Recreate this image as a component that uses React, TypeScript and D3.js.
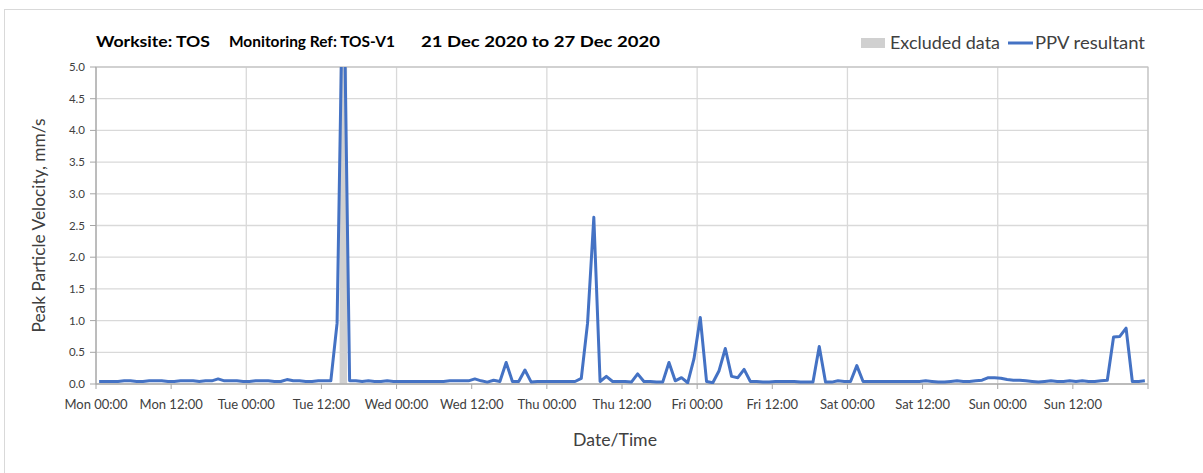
import { scaleLinear, line, range, format } from 'd3'
import { useMemo } from 'react'

// hourly PPV peaks, Mon 21 Dec 00:00 .. Sun 27 Dec 23:00 (mm/s)
const ppvValues = [
  0.04, 0.04, 0.04, 0.04, 0.05, 0.05, 0.04, 0.04, 0.05, 0.05, 0.05, 0.04,
  0.04, 0.05, 0.05, 0.05, 0.04, 0.05, 0.05, 0.08, 0.05, 0.05, 0.05, 0.04,
  0.04, 0.05, 0.05, 0.05, 0.04, 0.04, 0.07, 0.05, 0.05, 0.04, 0.04, 0.05,
  0.05, 0.05, 0.96, 7.0, 0.05, 0.05, 0.04, 0.05, 0.04, 0.04, 0.05, 0.04,
  0.04, 0.04, 0.04, 0.04, 0.04, 0.04, 0.04, 0.04, 0.05, 0.05, 0.05, 0.05,
  0.08, 0.05, 0.03, 0.06, 0.04, 0.34, 0.04, 0.04, 0.22, 0.03, 0.04, 0.04,
  0.04, 0.04, 0.04, 0.04, 0.04, 0.09, 0.96, 2.63, 0.04, 0.12, 0.04, 0.04,
  0.04, 0.03, 0.16, 0.04, 0.04, 0.03, 0.03, 0.34, 0.05, 0.1, 0.02, 0.4,
  1.05, 0.04, 0.02, 0.21, 0.56, 0.12, 0.1, 0.23, 0.04, 0.04, 0.03, 0.03,
  0.04, 0.04, 0.04, 0.04, 0.03, 0.03, 0.03, 0.59, 0.03, 0.03, 0.05, 0.04,
  0.04, 0.29, 0.04, 0.04, 0.04, 0.04, 0.04, 0.04, 0.04, 0.04, 0.04, 0.04,
  0.05, 0.04, 0.03, 0.03, 0.04, 0.05, 0.04, 0.04, 0.05, 0.06, 0.1, 0.1,
  0.09, 0.07, 0.06, 0.06, 0.05, 0.04, 0.03, 0.04, 0.05, 0.04, 0.04, 0.05,
  0.04, 0.05, 0.04, 0.04, 0.05, 0.06, 0.74, 0.75, 0.88, 0.04, 0.04, 0.05,
]

// hours (from Mon 00:00) flagged as excluded
const excludedHours = [39]

const xTickLabels = [
  'Mon 00:00', 'Mon 12:00', 'Tue 00:00', 'Tue 12:00', 'Wed 00:00', 'Wed 12:00', 'Thu 00:00',
  'Thu 12:00', 'Fri 00:00', 'Fri 12:00', 'Sat 00:00', 'Sat 12:00', 'Sun 00:00', 'Sun 12:00',
]

const yTicks = [0, 0.5, 1, 1.5, 2, 2.5, 3, 3.5, 4, 4.5, 5]

type PricePoint = { t: number; v: number }

const FONT = 'Lato, "Open Sans", sans-serif'
const BLUE = '#4472C4'

export default function App() {
  const width = 1203
  const height = 473
  const margin = { left: 96, right: 55, top: 67, bottom: 89 }
  const innerW = width - margin.left - margin.right
  const innerH = height - margin.top - margin.bottom

  const x = useMemo(() => scaleLinear().domain([0, 168]).range([0, innerW]), [innerW])
  const y = useMemo(() => scaleLinear().domain([0, 5]).range([innerH, 0]), [innerH])

  const points: PricePoint[] = ppvValues.map((v, i) => ({ t: i + 0.5, v }))
  const path = line<PricePoint>()
    .x((p) => x(p.t))
    .y((p) => y(p.v))(points)

  const f = format('.1f')
  const gridDays = range(0, 169, 24)
  const tickHours = range(0, 169, 12)

  return (
    <div style={{ position: 'fixed', left: 0, top: 0 }}>
      <svg width={width} height={height} style={{ display: 'block', fontFamily: FONT }}>
        <rect x={0} y={0} width={width} height={height} fill="#fff" />
        <rect x={4.5} y={9.5} width={width + 10} height={height + 10} fill="none" stroke="#d9d9d9" />

        {/* title */}
        <g fontSize={16} fontWeight={700} fill="#000">
          <text x={96} y={47} textLength={114} lengthAdjust="spacingAndGlyphs">Worksite: TOS</text>
          <text x={229} y={47} textLength={166} lengthAdjust="spacingAndGlyphs">Monitoring Ref: TOS-V1</text>
          <text x={421} y={47} textLength={239} lengthAdjust="spacingAndGlyphs">21 Dec 2020 to 27 Dec 2020</text>
        </g>

        {/* legend */}
        <rect x={861} y={38} width={24} height={10} fill="#d0d0d0" />
        <text x={890} y={49} fontSize={17} fill="#404040" textLength={110} lengthAdjust="spacingAndGlyphs">Excluded data</text>
        <line x1={1008} x2={1033} y1={43} y2={43} stroke={BLUE} strokeWidth={3} />
        <text x={1035} y={49} fontSize={17} fill="#404040" textLength={110} lengthAdjust="spacingAndGlyphs">PPV resultant</text>

        <defs>
          <clipPath id="plotClip">
            <rect x={0} y={0} width={innerW} height={innerH} />
          </clipPath>
        </defs>

        <g transform={`translate(${margin.left},${margin.top})`}>
          {yTicks.map((t) => (
            <line key={'h' + t} x1={0} x2={innerW} y1={y(t)} y2={y(t)} stroke="#d9d9d9" strokeWidth={1.3} />
          ))}
          {gridDays.map((h) => (
            <line key={'v' + h} x1={x(h)} x2={x(h)} y1={0} y2={innerH} stroke="#d9d9d9" strokeWidth={1.3} />
          ))}

          {excludedHours.map((h) => (
            <rect key={'ex' + h} x={x(h + 0.5) - x(0.6)} y={y(5)} width={x(1.2)} height={y(0) - y(5)} fill="#d0d0d0" />
          ))}

          <rect x={0} y={0} width={innerW} height={innerH} fill="none" stroke="#bfbfbf" />
          <line x1={0} x2={0} y1={0} y2={innerH} stroke="#a6a6a6" />
          <line x1={0} x2={innerW} y1={innerH} y2={innerH} stroke="#a6a6a6" />

          {yTicks.map((t) => (
            <g key={'yt' + t} transform={`translate(0,${y(t)})`}>
              <line x1={-6} x2={0} stroke="#a6a6a6" />
              <text x={-11} dy="0.35em" textAnchor="end" fontSize={11.5} fill="#404040">{f(t)}</text>
            </g>
          ))}
          {tickHours.map((h) => (
            <line key={'xt' + h} x1={x(h)} x2={x(h)} y1={innerH} y2={innerH + 5} stroke="#a6a6a6" />
          ))}
          {xTickLabels.map((label, i) => (
            <text key={label} x={x(i * 12)} y={innerH + 25} textAnchor="middle" fontSize={13} fill="#404040">
              {label}
            </text>
          ))}

          <path d={path ?? ''} fill="none" stroke={BLUE} strokeWidth={3} strokeLinejoin="round" clipPath="url(#plotClip)" />
        </g>

        <text
          transform={`translate(45,${margin.top + innerH / 2}) rotate(-90)`}
          textAnchor="middle"
          fontSize={16.5}
          fill="#404040"
          textLength={214}
          lengthAdjust="spacingAndGlyphs"
        >
          Peak Particle Velocity, mm/s
        </text>
        <text x={615} y={446} textAnchor="middle" fontSize={16.5} fill="#404040" textLength={84} lengthAdjust="spacingAndGlyphs">
          Date/Time
        </text>
      </svg>
    </div>
  )
}
